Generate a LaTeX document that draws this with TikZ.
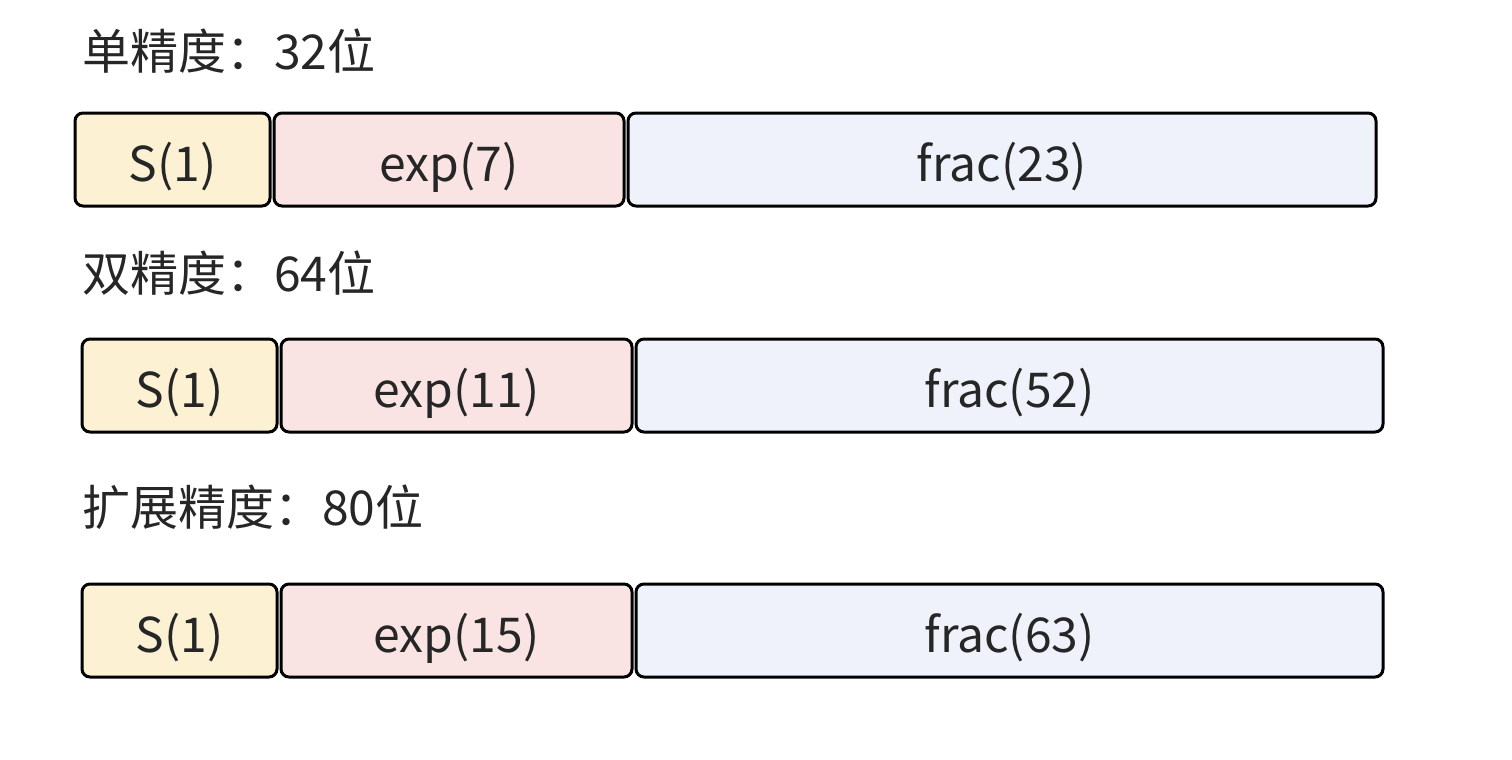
\documentclass[tikz,border=0pt]{standalone}
\usepackage{fontspec}
\setmainfont{Noto Sans CJK SC}
\definecolor{signc}{HTML}{FDF1D4}
\definecolor{expc}{HTML}{F9E3E3}
\definecolor{fracc}{HTML}{EFF2FA}
\definecolor{inkc}{HTML}{262626}
\tikzset{
  field/.style={draw=black, line width=3pt, rounded corners=8pt, minimum height=93pt,
    inner sep=0pt, text height=50pt, text depth=6pt, text=inkc,
    font=\fontsize{48}{54}\selectfont},
  title/.style={anchor=base west, inner sep=0pt, text=inkc, font=\fontsize{48}{54}\selectfont}
}
\begin{document}
\begin{tikzpicture}[x=1pt, y=-1pt]
      \useasboundingbox (0, 0) rectangle (1512, 760);

      % single
      \node[title] (t32) at (82, 70) {单精度：32位};
      \node[field, fill=signc, minimum width=195pt] (s32) at (172.5, 159.5) {S(1)};
      \node[field, fill=expc, minimum width=350pt] (e32) at (449, 159.5) {exp(7)};
      \node[field, fill=fracc, minimum width=748pt] (f32) at (1002, 159.5) {frac(23)};

      % double
      \node[title] (t64) at (82, 291) {双精度：64位};
      \node[field, fill=signc, minimum width=195pt] (s64) at (179.5, 385.5) {S(1)};
      \node[field, fill=expc, minimum width=351pt] (e64) at (456.5, 385.5) {exp(11)};
      \node[field, fill=fracc, minimum width=747pt] (f64) at (1009.5, 385.5) {frac(52)};

      % extended
      \node[title] (t80) at (82, 525) {扩展精度：80位};
      \node[field, fill=signc, minimum width=195pt] (s80) at (179.5, 630.5) {S(1)};
      \node[field, fill=expc, minimum width=351pt] (e80) at (456.5, 630.5) {exp(15)};
      \node[field, fill=fracc, minimum width=747pt] (f80) at (1009.5, 630.5) {frac(63)};
    \end{tikzpicture}
\end{document}
